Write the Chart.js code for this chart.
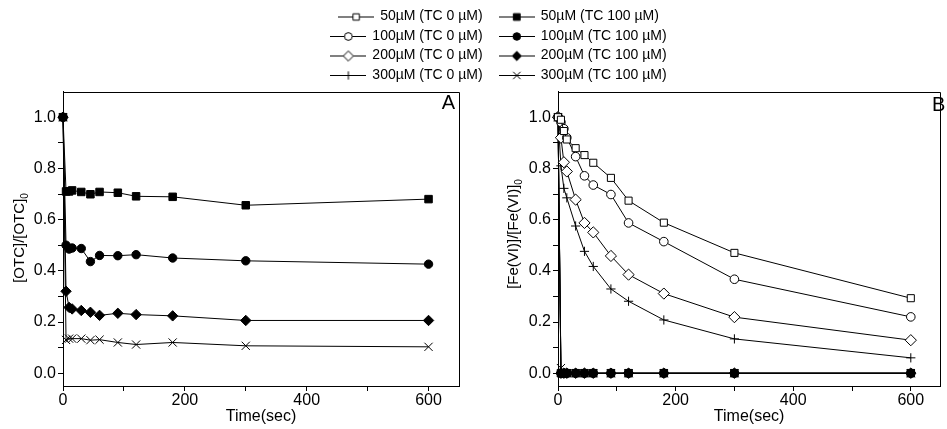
<!DOCTYPE html>
<html><head><meta charset="utf-8">
<script src="https://cdn.jsdelivr.net/npm/chart.js@4"></script>
<style>
html,body{margin:0;padding:0;background:#fff;}
#wrap{position:relative;width:947px;height:429px;overflow:hidden;background:#fff;}
canvas{position:absolute;}
</style></head>
<body>
<div id="wrap">
<canvas id="ca" width="475" height="349" style="left:0;top:80px;width:475px;height:349px"></canvas>
<canvas id="cb" width="467" height="349" style="left:480px;top:80px;width:467px;height:349px"></canvas>
<canvas id="cl" width="470" height="88" style="left:264px;top:0;width:470px;height:88px"></canvas>
</div>
<script>
// ---------------- data ----------------
const times = [0, 5, 10, 15, 30, 45, 60, 90, 120, 180, 300, 600];
const xTicks = [0, 100, 200, 300, 400, 500, 600];
const yTicks = [0, 0.1, 0.2, 0.3, 0.4, 0.5, 0.6, 0.7, 0.8, 0.9, 1.0];
const seriesNames = ['50µM', '100µM', '200µM', '300µM'];
// Panel A : [OTC]/[OTC]0 with TC 100 µM
const otc50TC100  = [1.0, 0.710, 0.710, 0.714, 0.708, 0.699, 0.708, 0.705, 0.691, 0.689, 0.656, 0.680];
const otc100TC100 = [1.0, 0.500, 0.485, 0.489, 0.487, 0.436, 0.460, 0.459, 0.463, 0.450, 0.439, 0.426];
const otc200TC100 = [1.0, 0.320, 0.257, 0.251, 0.245, 0.238, 0.226, 0.234, 0.229, 0.224, 0.206, 0.206];
const otc300TC100 = [1.0, 0.130, 0.135, 0.135, 0.135, 0.129, 0.131, 0.120, 0.112, 0.120, 0.107, 0.103];
// Panel B : [Fe(VI)]/[Fe(VI)]0
const fe50TC0   = [1.0, 0.990, 0.946, 0.913, 0.879, 0.852, 0.822, 0.763, 0.674, 0.588, 0.470, 0.293];
const fe100TC0  = [1.0, 0.980, 0.955, 0.920, 0.846, 0.771, 0.735, 0.698, 0.587, 0.514, 0.367, 0.220];
const fe200TC0  = [1.0, 0.920, 0.824, 0.788, 0.678, 0.587, 0.550, 0.458, 0.385, 0.311, 0.219, 0.129];
const fe300TC0  = [1.0, 0.810, 0.722, 0.685, 0.575, 0.476, 0.417, 0.329, 0.281, 0.208, 0.134, 0.060];
const fe50TC100  = [1.0, 0, 0, 0, 0, 0, 0, 0, 0, 0, 0, 0];
const fe100TC100 = [1.0, 0, 0, 0, 0, 0, 0, 0, 0, 0, 0, 0];
const fe200TC100 = [1.0, 0, 0, 0, 0, 0, 0, 0, 0, 0, 0, 0];
const fe300TC100 = [1.0, 0.020, 0, 0, 0, 0, 0, 0, 0, 0, 0, 0];

const FAM = "'Liberation Sans', Arial, sans-serif";
Chart.defaults.font.family = FAM;
Chart.defaults.color = '#000';

// marker styles
const styleFilled = [
  {pointStyle:'rect', radius:5.3, fill:'#000'},
  {pointStyle:'circle', radius:4.2, fill:'#000'},
  {pointStyle:'rectRot', radius:5.2, fill:'#000'},
  {pointStyle:'crossRot', radius:5.8, fill:'#000'}
];
const styleOpen = [
  {pointStyle:'rect', radius:5.0, fill:'#fff'},
  {pointStyle:'circle', radius:4.3, fill:'#fff'},
  {pointStyle:'rectRot', radius:5.6, fill:'#fff'},
  {pointStyle:'cross', radius:4.6, fill:'#fff'}
];

function mkData(vals){ return times.map((t,i)=>({x:t, y:vals[i]})); }
function mkSet(label, vals, st){
  return {label, data: mkData(vals), borderColor:'#000', borderWidth:1, tension:0, fill:false,
    pointStyle: st.pointStyle, pointRadius: st.radius, pointHoverRadius: st.radius,
    pointBackgroundColor: st.fill, pointBorderColor:'#000', pointBorderWidth:1, clip:false};
}

const boxPlugin = {
  id:'box',
  afterDatasetsDraw(chart){
    const {ctx, chartArea:a} = chart;
    ctx.save(); ctx.strokeStyle='#000'; ctx.lineWidth=1;
    ctx.beginPath();
    ctx.moveTo(Math.round(a.left)+0.5, Math.round(a.top)+0.5);
    ctx.lineTo(Math.round(a.right)+0.5, Math.round(a.top)+0.5);
    ctx.lineTo(Math.round(a.right)+0.5, Math.round(a.bottom)+0.5);
    ctx.stroke(); ctx.restore();
  }
};
const labelPlugin = {
  id:'panelText',
  afterDraw(chart, args, o){
    const ctx = chart.ctx;
    ctx.save(); ctx.fillStyle='#000';
    ctx.font = '20px ' + FAM; ctx.textAlign = o.letterAlign; ctx.textBaseline='middle';
    ctx.fillText(o.letter, o.lx, o.ly);
    ctx.translate(o.tx, o.ty); ctx.rotate(-Math.PI/2);
    ctx.font = '15px ' + FAM; const w1 = ctx.measureText(o.main).width;
    ctx.font = '10px ' + FAM; const w2 = ctx.measureText('0').width;
    const x0 = -(w1+w2)/2;
    ctx.textAlign='left'; ctx.textBaseline='middle';
    ctx.font = '15px ' + FAM; ctx.fillText(o.main, x0, 0);
    ctx.font = '10px ' + FAM; ctx.fillText('0', x0 + w1, 5);
    ctx.restore();
  }
};

function scalesCfg(yWidth){
  const grid = {display:true, drawOnChartArea:false, drawTicks:true, tickLength:5, color:'#000', lineWidth:1};
  return {
    x: {type:'linear', min:0, max:650,
      afterBuildTicks: s => { s.ticks = xTicks.map(v=>({value:v})); },
      afterFit: s => { s.height = 43; },
      ticks:{autoSkip:false, maxRotation:0, padding:0, color:'#000', font:{size:16},
        callback: v => (v % 200 === 0) ? String(v) : ''},
      grid, border:{display:true, color:'#000', width:1},
      title:{display:true, text:'Time(sec)', color:'#000', font:{size:16}, padding:{top:0, bottom:3}}
    },
    y: {type:'linear', min:-0.05, max:1.1,
      afterBuildTicks: s => { s.ticks = yTicks.map(v=>({value:v})); },
      afterFit: s => { s.width = yWidth; },
      ticks:{autoSkip:false, padding:2, color:'#000', font:{size:16},
        callback: v => (Math.round(v*10) % 2 === 0) ? v.toFixed(1) : ''},
      grid, border:{display:true, color:'#000', width:1}
    }
  };
}

const baseOpts = {responsive:false, animation:false, devicePixelRatio:1,
  events:[], plugins:{legend:{display:false}, tooltip:{enabled:false}}};

new Chart(document.getElementById('ca'), {
  type:'line',
  data:{datasets:[
    mkSet(seriesNames[0]+' (TC 100 µM)', otc50TC100, styleFilled[0]),
    mkSet(seriesNames[1]+' (TC 100 µM)', otc100TC100, styleFilled[1]),
    mkSet(seriesNames[2]+' (TC 100 µM)', otc200TC100, styleFilled[2]),
    mkSet(seriesNames[3]+' (TC 100 µM)', otc300TC100, styleFilled[3])
  ]},
  options:Object.assign({}, baseOpts, {
    layout:{padding:{top:10, right:16, left:0, bottom:0}},
    scales: scalesCfg(63),
    plugins:{legend:{display:false}, tooltip:{enabled:false},
      panelText:{letter:'A', letterAlign:'right', lx:455, ly:23, main:'[OTC]/[OTC]', tx:20, ty:158}}
  }),
  plugins:[boxPlugin, labelPlugin]
});

new Chart(document.getElementById('cb'), {
  type:'line',
  data:{datasets:[
    mkSet(seriesNames[0]+' (TC 0 µM)', fe50TC0, styleOpen[0]),
    mkSet(seriesNames[1]+' (TC 0 µM)', fe100TC0, styleOpen[1]),
    mkSet(seriesNames[2]+' (TC 0 µM)', fe200TC0, styleOpen[2]),
    mkSet(seriesNames[3]+' (TC 0 µM)', fe300TC0, styleOpen[3]),
    mkSet(seriesNames[0]+' (TC 100 µM)', fe50TC100, styleFilled[0]),
    mkSet(seriesNames[1]+' (TC 100 µM)', fe100TC100, styleFilled[1]),
    mkSet(seriesNames[2]+' (TC 100 µM)', fe200TC100, styleFilled[2]),
    mkSet(seriesNames[3]+' (TC 100 µM)', fe300TC100, styleFilled[3])
  ]},
  options:Object.assign({}, baseOpts, {
    layout:{padding:{top:10, right:1, left:0, bottom:0}},
    scales: scalesCfg(78),
    plugins:{legend:{display:false}, tooltip:{enabled:false},
      panelText:{letter:'B', letterAlign:'left', lx:452, ly:25, main:'[Fe(VI)]/[Fe(VI)]', tx:34, ty:154}}
  }),
  plugins:[boxPlugin, labelPlugin]
});

// ---------------- legend ----------------
function sampleImg(st){
  const c = document.createElement('canvas'); c.width = 36; c.height = 14;
  const g = c.getContext('2d');
  g.strokeStyle = '#000'; g.lineWidth = 1;
  g.beginPath(); g.moveTo(0, 7.5); g.lineTo(36, 7.5); g.stroke();
  g.fillStyle = st.fill; g.strokeStyle = '#000'; g.lineWidth = 1;
  Chart.helpers.drawPoint(g, {pointStyle: st.pointStyle, radius: st.radius*0.9, rotation:0, borderWidth:1}, 18, 7.5);
  return c;
}
const legendItems = [];
for (let i = 0; i < 4; i++) {
  legendItems.push({text: seriesNames[i] + ' (TC 0 µM)   ', st: styleOpen[i]});
  legendItems.push({text: seriesNames[i] + ' (TC 100 µM)', st: styleFilled[i]});
}
new Chart(document.getElementById('cl'), {
  type:'line',
  data:{datasets: legendItems.map(it => ({label: it.text, data: []}))},
  options:{responsive:false, animation:false, devicePixelRatio:1, events:[],
    layout:{padding:{top:4}},
    scales:{x:{display:false}, y:{display:false}},
    plugins:{tooltip:{enabled:false},
      legend:{display:true, position:'top', align:'center', maxHeight:88,
        labels:{usePointStyle:true, pointStyleWidth:34, boxHeight:14, padding:5.5, color:'#000',
          font:{size:14, family:FAM},
          generateLabels: () => legendItems.map((it, i) => ({
            text: it.text, pointStyle: sampleImg(it.st), fillStyle:'#000', strokeStyle:'#000',
            lineWidth:0, hidden:false, datasetIndex:i, fontColor:'#000'}))
        }}}
  }
});
</script>
</body></html>
